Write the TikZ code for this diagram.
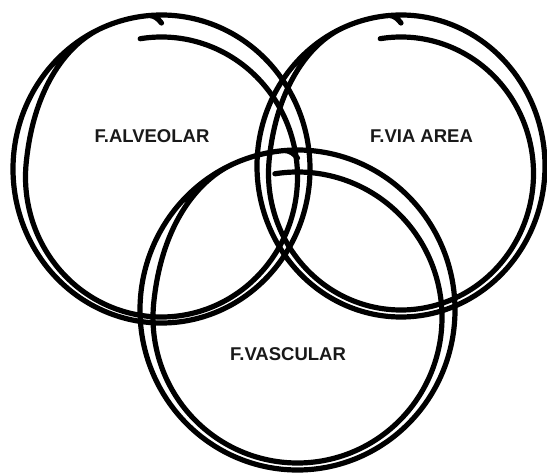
\documentclass[tikz,border=0pt]{standalone}
\usepackage{fontspec}
\setmainfont{Liberation Sans}
\begin{document}
\begin{tikzpicture}[x=1pt,y=-1pt,
  declare function={
    cw(\u)=min(1,max(0,(\u-285)/60));
    bl(\u)=cw(\u)*cw(\u)*(3-2*cw(\u));
    hk(\u)=max(0,(\u-724)/5);
  },
  ring/.style={line width=5.2pt, line cap=round, line join=round, black},
  lbl/.style={font=\bfseries\fontsize{18.5}{20}\selectfont, inner sep=0pt, text=black!90}]
\useasboundingbox (0,0) rectangle (547,473);
% #1 cx, #2 cy (outer), #3 rx outer, #4 ry outer, #5 inner centre shift down, #6 rx inner, #7 ry inner
\newcommand\handring[7]{%
  \draw[ring] plot[variable=\u, domain=0:729, samples=730]
   ({#1 + (#6 + bl(\u)*(#3-#6) - 8*hk(\u)*hk(\u))*cos(99-\u)},
    {#2 + #5*(1-bl(\u)) - (#7 + bl(\u)*(#4-#7) - 8*hk(\u)*hk(\u))*sin(99-\u)});}
\handring{161.5}{169}{148.5}{154}{8}{136}{140}
\handring{401}{166}{144}{151}{7.5}{132.5}{136.5}
\handring{297.5}{310}{157.5}{160}{7.5}{144.5}{145.5}
\node[lbl] (alv) at (152,136.5) {F.ALVEOLAR};
\node[lbl] (via) at (421.5,136.5) {F.VIA AREA};
\node[lbl] (vas) at (288,354) {F.VASCULAR};
\end{tikzpicture}
\end{document}
